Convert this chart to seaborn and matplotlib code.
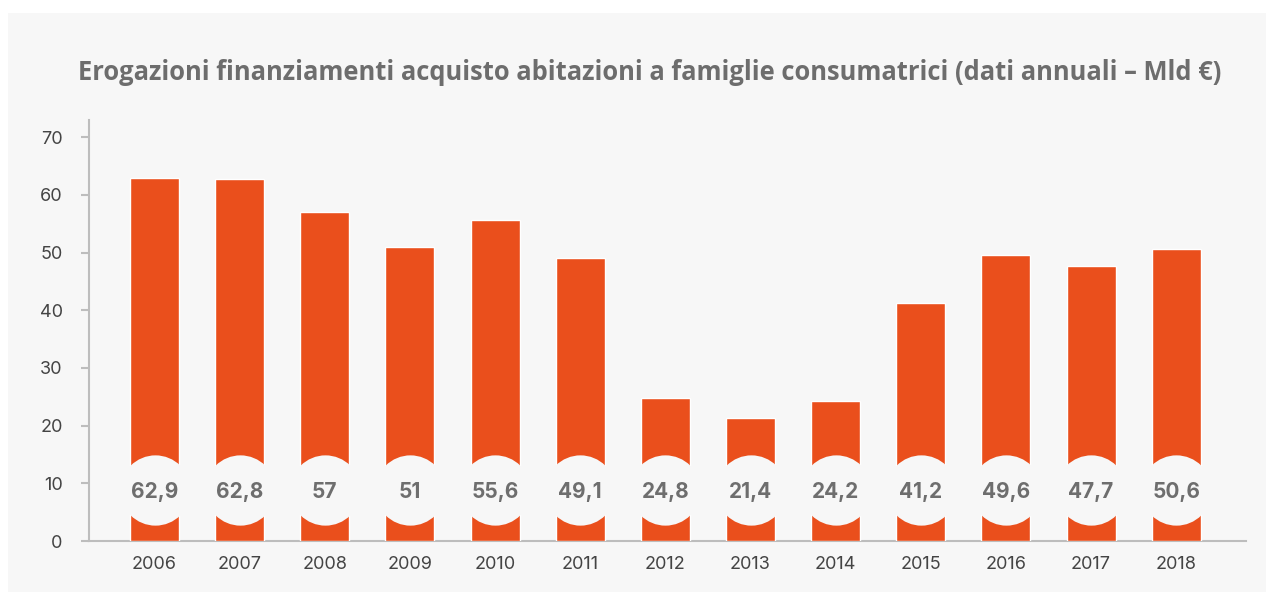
import matplotlib
matplotlib.use("Agg")
import matplotlib.pyplot as plt
import seaborn as sns
import pandas as pd
from matplotlib.patches import Rectangle

anni = ['2006', '2007', '2008', '2009', '2010', '2011', '2012',
        '2013', '2014', '2015', '2016', '2017', '2018']
erogazioni = [62.9, 62.8, 57, 51, 55.6, 49.1, 24.8, 21.4, 24.2, 41.2, 49.6, 47.7, 50.6]
etichette = ['62,9', '62,8', '57', '51', '55,6', '49,1', '24,8',
             '21,4', '24,2', '41,2', '49,6', '47,7', '50,6']
titolo = 'Erogazioni finanziamenti acquisto abitazioni a famiglie consumatrici (dati annuali – Mld €)'

ARANCIO = '#EA4F1C'
SFONDO = '#F7F7F7'
GRIGIO = '#BDBDBD'

sns.set_style('white')
plt.rcParams['font.family'] = ['Inter', 'DejaVu Sans']

df = pd.DataFrame({'anno': anni, 'valore': erogazioni})

fig = plt.figure(figsize=(12.66, 5.92), dpi=100)
fig.patch.set_facecolor('white')
fig.patches.append(Rectangle((8 / 1266, 0), 1, 1 - 13 / 592, transform=fig.transFigure,
                             facecolor=SFONDO, edgecolor='none', zorder=-10))

ax = fig.add_axes([89 / 1266, 1 - 541 / 592, (1246 - 89) / 1266, (541 - 120) / 592])
ax.set_facecolor(SFONDO)

sns.barplot(data=df, x='anno', y='valore', color=ARANCIO, saturation=1,
            width=0.575, ax=ax, zorder=2)

# cerchi con il valore
xs = list(range(len(anni)))
ax.scatter(xs, [8.8] * len(xs), s=2560, color=SFONDO, zorder=3, linewidths=0)
for x, t in zip(xs, etichette):
    ax.text(x, 8.55, t, ha='center', va='center', fontsize=15, fontweight='bold',
            color='#6E6E6E', zorder=4)

ax.set_xlim(-0.77, 12.82)
ax.set_ylim(0, 73)
ax.set_yticks(range(0, 71, 10))
ax.set_xlabel('')
ax.set_ylabel('')

for s in ['top', 'right']:
    ax.spines[s].set_visible(False)
for s in ['left', 'bottom']:
    ax.spines[s].set_color(GRIGIO)
    ax.spines[s].set_linewidth(1.5)
    ax.spines[s].set_zorder(1)

ax.tick_params(axis='y', length=6, width=1.5, color=GRIGIO, pad=13,
               labelsize=13, labelcolor='#444444', left=True)
ax.tick_params(axis='x', length=0, pad=11, labelsize=13, labelcolor='#444444')

fig.text(650 / 1266, 1 - 72 / 592, titolo, ha='center', va='center',
         fontsize=18.4, fontweight='bold', color='#6D6D6D',
         family=['Open Sans', 'DejaVu Sans'])

fig.savefig('out.png', dpi=100, facecolor=fig.get_facecolor())
